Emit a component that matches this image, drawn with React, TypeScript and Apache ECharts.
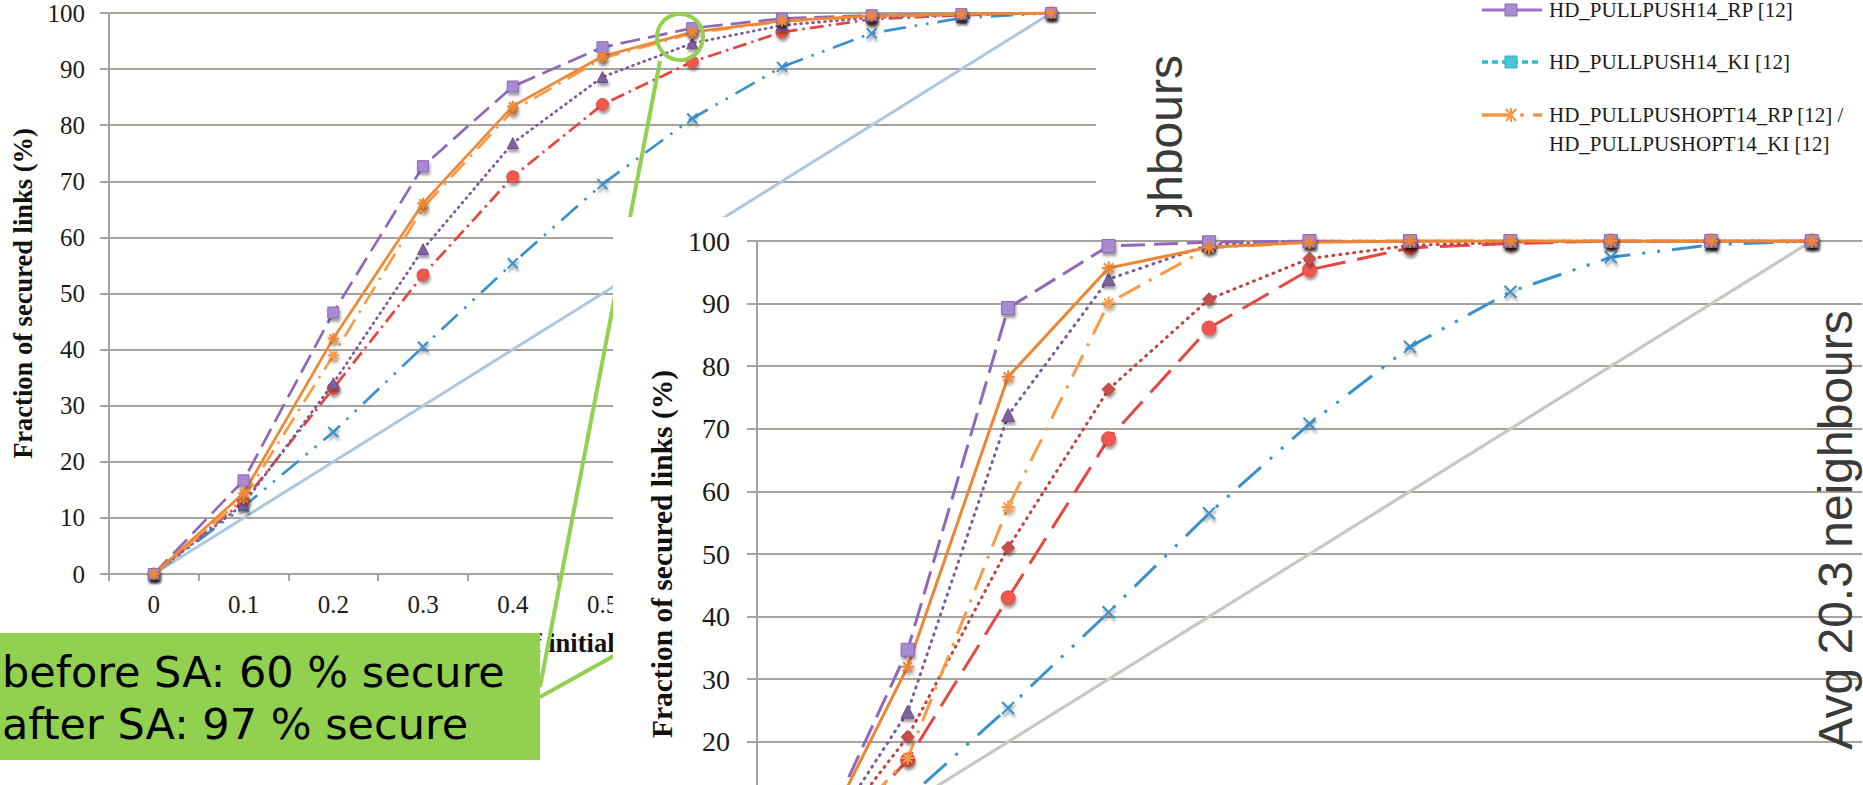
import React, { useEffect, useRef } from 'react';
import * as echarts from 'echarts';

// ---------- data ----------
const categories = ['0', '0.1', '0.2', '0.3', '0.4', '0.5', '0.6', '0.7', '0.8', '0.9', '1'];

// back chart (left)
const c1PullPushRP = [0, 16.7, 46.6, 72.7, 86.9, 93.9, 97.3, 99.0, 99.6, 99.8, 100];
const c1PullPushOptRP = [0, 14.4, 42.0, 66.1, 83.4, 92.3, 96.6, 98.6, 99.5, 99.8, 100];
const c1PullPushOptKI = [0, 13.5, 39.0, 65.3, 82.6, 91.9, 96.4, 98.5, 99.4, 99.8, 100];
const c1Triangle = [0, 12.5, 34.0, 57.9, 76.8, 88.6, 94.6, 97.8, 99.2, 99.7, 100];
const c1Circle = [0, 13.0, 33.1, 53.3, 70.8, 83.7, 91.3, 96.6, 98.9, 99.6, 100];
const c1Cross = [0, 12.0, 25.3, 40.5, 55.4, 69.5, 81.2, 90.4, 96.4, 99.1, 100];
const c1Diagonal = [0, 10, 20, 30, 40, 50, 60, 70, 80, 90, 100];

// front chart (Avg 20.3 neighbours)
const c2PullPushRP = [0, 34.7, 89.3, 99.2, 99.8, 100, 100, 100, 100, 100, 100];
const c2PullPushOptRP = [0, 32.0, 78.3, 95.7, 99.0, 99.8, 100, 100, 100, 100, 100];
const c2PullPushOptKI = [0, 17.4, 57.5, 90.1, 98.9, 99.8, 100, 100, 100, 100, 100];
const c2Triangle = [0, 24.8, 72.2, 93.9, 99.4, 100, 100, 100, 100, 100, 100];
const c2Diamond = [0, 20.8, 51.0, 76.3, 90.7, 97.2, 99.3, 99.8, 100, 100, 100];
const c2Circle = [0, 17.1, 43.0, 68.4, 86.1, 95.4, 98.9, 99.6, 100, 100, 100];
const c2Cross = [0, 11.0, 25.4, 40.7, 56.5, 70.8, 83.1, 91.9, 97.4, 99.4, 100];
const c2Diagonal = [0, 10, 20, 30, 40, 50, 60, 70, 80, 90, 100];

const legendLabels = [
  'HD_PULLPUSH14_RP [12]',
  'HD_PULLPUSH14_KI [12]',
  'HD_PULLPUSHOPT14_RP [12] /',
  'HD_PULLPUSHOPT14_KI [12]',
];
const calloutLines = ['before SA: 60 % secure', 'after SA: 97 % secure'];

// ---------- styles ----------
const SERIF = '"Liberation Serif", "Times New Roman", serif';
const SANS = '"Liberation Sans", Arial, sans-serif';
const DEJAVU = '"DejaVu Sans", Verdana, sans-serif';
const GRID = '#a6a29c';
const GREEN = '#92d050';
const ASTERISK = 'path://M5,0L5,10M0,5L10,5M1.5,1.5L8.5,8.5M8.5,1.5L1.5,8.5';
const CROSS = 'path://M0,0L10,10M10,0L0,10';

type Mk = { symbol: string; size: number; fill: string; border: string; bw: number };

function mkSeries(
  name: string,
  data: number[],
  color: string,
  width: number,
  dash: any,
  cap: string,
  mk?: Mk,
) {
  return {
    type: 'line',
    name,
    data,
    silent: true,
    lineStyle: { color, width, type: dash, cap, join: 'round' },
    symbol: mk ? mk.symbol : 'none',
    symbolSize: mk ? mk.size : 0,
    showSymbol: !!mk,
    showAllSymbol: true,
    itemStyle: mk
      ? {
          color: mk.fill,
          borderColor: mk.border,
          borderWidth: mk.bw,
          shadowBlur: 3,
          shadowOffsetX: 1,
          shadowOffsetY: 3,
          shadowColor: 'rgba(0,0,0,0.4)',
        }
      : { color },
  };
}

function axes(opts: {
  labelSize: number;
  yMargin: number;
  xMargin: number;
  tickLen: number;
  yName: string;
  yNameGap: number;
  nameSize: number;
  xName?: string;
  xNameGap?: number;
  maxLabelIndex?: number;
}) {
  const axisLine = { show: true, lineStyle: { color: GRID, width: 2 } };
  const maxIdx = opts.maxLabelIndex === undefined ? 99 : opts.maxLabelIndex;
  return {
    xAxis: {
      type: 'category',
      data: categories,
      boundaryGap: true,
      axisLine,
      axisTick: { show: true, length: 7, interval: 0, lineStyle: { color: GRID, width: 2 } },
      axisLabel: {
        fontFamily: SERIF,
        fontSize: opts.labelSize,
        color: '#1a1a1a',
        margin: opts.xMargin,
        interval: (index: number) => index <= maxIdx,
      },
      splitLine: { show: false },
      name: opts.xName || '',
      nameLocation: 'middle',
      nameGap: opts.xNameGap || 40,
      nameTextStyle: { fontFamily: SERIF, fontWeight: 'bold', fontSize: opts.nameSize, color: '#111' },
    },
    yAxis: {
      type: 'value',
      min: 0,
      max: 100,
      interval: 10,
      axisLine,
      axisTick: { show: true, length: opts.tickLen, lineStyle: { color: GRID, width: 2 } },
      splitLine: { show: true, lineStyle: { color: GRID, width: 2 } },
      axisLabel: { fontFamily: SERIF, fontSize: opts.labelSize, color: '#1a1a1a', margin: opts.yMargin },
      name: opts.yName,
      nameLocation: 'middle',
      nameGap: opts.yNameGap,
      nameTextStyle: { fontFamily: SERIF, fontWeight: 'bold', fontSize: opts.nameSize, color: '#111' },
    },
  };
}

function buildOption1() {
  const w = 2.7;
  const Z = 100;
  const legendX0 = 1482;
  const legendX1 = 1542;
  const legendMid = 1511;
  const textX = 1549;
  const rowsY = [10, 62, 115, 144];
  const legendText = legendLabels.map((t, i) => ({
    type: 'text',
    z: Z,
    x: textX,
    y: rowsY[i],
    style: { text: t, fontFamily: SERIF, fontSize: 21, fill: '#1a1a1a', align: 'left', verticalAlign: 'middle' },
  }));
  return {
    animation: false,
    backgroundColor: '#ffffff',
    grid: { left: 109, right: 767, top: 13, bottom: 211, containLabel: false },
    ...axes({
      labelSize: 25,
      yMargin: 24,
      xMargin: 18,
      tickLen: 9,
      yName: 'Fraction of secured links (%)',
      yNameGap: 73,
      nameSize: 26.5,
      xName: 'Fraction of initially secured links',
      xNameGap: 55,
      maxLabelIndex: 5,
    }),
    series: [
      mkSeries('diagonal', c1Diagonal, '#aec7dd', 3, 'solid', 'butt'),
      mkSeries('cross', c1Cross, '#3a92cc', w, [22, 9, 2.5, 9, 2.5, 9], 'butt', {
        symbol: CROSS, size: 10, fill: '#3a92cc', border: '#3a92cc', bw: 2,
      }),
      mkSeries('circle', c1Circle, '#e5463e', w, [14, 5, 2.5, 5], 'butt', {
        symbol: 'circle', size: 12, fill: '#f0584e', border: '#d84a42', bw: 1,
      }),
      mkSeries('triangle', c1Triangle, '#7d5a9c', w, [1, 5], 'round', {
        symbol: 'triangle', size: 11, fill: '#80609f', border: '#6d4e8c', bw: 1,
      }),
      mkSeries('HD_PULLPUSHOPT14_KI [12]', c1PullPushOptKI, '#fb9a44', w, [20, 8, 2.5, 8], 'butt', {
        symbol: ASTERISK, size: 11, fill: '#fb9a44', border: '#fb9a44', bw: 2,
      }),
      mkSeries('HD_PULLPUSH14_RP [12]', c1PullPushRP, '#8f68b8', w, [20, 8], 'butt', {
        symbol: 'rect', size: 11, fill: '#a88ad0', border: '#8a68b4', bw: 1,
      }),
      mkSeries('HD_PULLPUSHOPT14_RP [12]', c1PullPushOptRP, '#ee8836', w, 'solid', 'butt', {
        symbol: ASTERISK, size: 11, fill: '#ee8836', border: '#ee8836', bw: 2,
      }),
    ],
    graphic: [
      // rotated label of the back chart (mostly hidden by the front chart)
      {
        type: 'text',
        z: Z,
        x: 1165,
        y: 55,
        rotation: Math.PI / 2,
        style: { text: 'neighbours', fontFamily: SANS, fontSize: 48, fill: '#3a3a3a', align: 'right', verticalAlign: 'middle' },
      },
      // legend
      { type: 'line', z: Z, shape: { x1: legendX0, y1: rowsY[0], x2: legendX1, y2: rowsY[0] }, style: { stroke: '#9b72c8', lineWidth: 3 } },
      { type: 'rect', z: Z, shape: { x: legendMid - 6, y: rowsY[0] - 6, width: 12, height: 12 }, style: { fill: '#a98bd0', stroke: '#8a68b4', lineWidth: 1 } },
      { type: 'line', z: Z, shape: { x1: legendX0, y1: rowsY[1], x2: legendX1, y2: rowsY[1] }, style: { stroke: '#2bbad0', lineWidth: 3.5, lineDash: [6, 4] } },
      { type: 'rect', z: Z, shape: { x: legendMid - 6, y: rowsY[1] - 6, width: 12, height: 12 }, style: { fill: '#4ec5d6', stroke: '#2bb0c4', lineWidth: 1 } },
      { type: 'line', z: Z, shape: { x1: legendX0, y1: rowsY[2], x2: legendMid, y2: rowsY[2] }, style: { stroke: '#f79646', lineWidth: 3.5 } },
      { type: 'line', z: Z, shape: { x1: legendMid - 5, y1: rowsY[2] - 6, x2: legendMid + 5, y2: rowsY[2] + 6 }, style: { stroke: '#f79646', lineWidth: 2 } },
      { type: 'line', z: Z, shape: { x1: legendMid + 5, y1: rowsY[2] - 6, x2: legendMid - 5, y2: rowsY[2] + 6 }, style: { stroke: '#f79646', lineWidth: 2 } },
      { type: 'line', z: Z, shape: { x1: legendMid, y1: rowsY[2] - 7, x2: legendMid, y2: rowsY[2] + 7 }, style: { stroke: '#f79646', lineWidth: 2 } },
      { type: 'circle', z: Z, shape: { cx: legendMid + 11, cy: rowsY[2], r: 2 }, style: { fill: '#f79646' } },
      { type: 'line', z: Z, shape: { x1: legendMid + 22, y1: rowsY[2], x2: legendX1, y2: rowsY[2] }, style: { stroke: '#f79646', lineWidth: 3.5 } },
      ...legendText,
      // green call-out
      { type: 'line', z: Z, shape: { x1: 700, y1: 608, x2: 540, y2: 697 }, style: { stroke: GREEN, lineWidth: 4 } },
      { type: 'line', z: Z, shape: { x1: 660, y1: 61, x2: 540, y2: 687 }, style: { stroke: GREEN, lineWidth: 4 } },
      { type: 'circle', z: Z, shape: { cx: 680, cy: 37, r: 23 }, style: { fill: 'none', stroke: GREEN, lineWidth: 4 } },
      { type: 'rect', z: Z, shape: { x: -5, y: 633, width: 545, height: 127 }, style: { fill: GREEN } },
      {
        type: 'text', z: Z + 1, x: 2, y: 672,
        style: { text: calloutLines[0], fontFamily: DEJAVU, fontSize: 43, fill: '#000', align: 'left', verticalAlign: 'middle' },
      },
      {
        type: 'text', z: Z + 1, x: 2, y: 724,
        style: { text: calloutLines[1], fontFamily: DEJAVU, fontSize: 43, fill: '#000', align: 'left', verticalAlign: 'middle' },
      },
    ],
  };
}

function buildOption2() {
  const w = 3;
  return {
    animation: false,
    backgroundColor: '#ffffff',
    grid: { left: 144, right: 1, top: 24, bottom: 50, containLabel: false },
    ...axes({
      labelSize: 28,
      yMargin: 27,
      xMargin: 20,
      tickLen: 10,
      yName: 'Fraction of secured links (%)',
      yNameGap: 79,
      nameSize: 29.5,
    }),
    series: [
      mkSeries('diagonal', c2Diagonal, '#cac7c1', 3.2, 'solid', 'butt'),
      mkSeries('cross', c2Cross, '#3a92cc', w, [30, 12, 3, 12, 3, 12], 'butt', {
        symbol: CROSS, size: 12, fill: '#3a92cc', border: '#3a92cc', bw: 2,
      }),
      mkSeries('circle', c2Circle, '#e6473f', w, [30, 12], 'butt', {
        symbol: 'circle', size: 14, fill: '#f2574d', border: '#d84a42', bw: 1,
      }),
      mkSeries('diamond', c2Diamond, '#c4403c', w, [1, 6], 'round', {
        symbol: 'diamond', size: 13, fill: '#c9504c', border: '#b2403c', bw: 1,
      }),
      mkSeries('triangle', c2Triangle, '#7d5a9c', w, [1, 6], 'round', {
        symbol: 'triangle', size: 13, fill: '#80609f', border: '#6d4e8c', bw: 1,
      }),
      mkSeries('HD_PULLPUSHOPT14_KI [12]', c2PullPushOptKI, '#fb9a44', w, [24, 10, 3, 10], 'butt', {
        symbol: ASTERISK, size: 13, fill: '#fb9a44', border: '#fb9a44', bw: 2,
      }),
      mkSeries('HD_PULLPUSH14_RP [12]', c2PullPushRP, '#8f68b8', w, [24, 9], 'butt', {
        symbol: 'rect', size: 13, fill: '#a88ad0', border: '#8a68b4', bw: 1,
      }),
      mkSeries('HD_PULLPUSHOPT14_RP [12]', c2PullPushOptRP, '#ec8534', w, 'solid', 'butt', {
        symbol: ASTERISK, size: 13, fill: '#ec8534', border: '#ec8534', bw: 2,
      }),
    ],
    graphic: [
      {
        type: 'text',
        z: 100,
        x: 1222,
        y: 313,
        rotation: Math.PI / 2,
        style: { text: 'Avg 20.3 neighbours', fontFamily: SANS, fontSize: 48, fill: '#3a3a3a', align: 'center', verticalAlign: 'middle' },
      },
    ],
  };
}

export default function App() {
  const ref1 = useRef<HTMLDivElement>(null);
  const ref2 = useRef<HTMLDivElement>(null);
  useEffect(() => {
    const c1 = echarts.init(ref1.current as HTMLDivElement, undefined, { renderer: 'svg' });
    c1.setOption(buildOption1() as any);
    const c2 = echarts.init(ref2.current as HTMLDivElement, undefined, { renderer: 'svg' });
    c2.setOption(buildOption2() as any);
    return () => {
      c1.dispose();
      c2.dispose();
    };
  }, []);
  return (
    <div
      style={{
        position: 'fixed',
        left: 0,
        top: 0,
        width: 1863,
        height: 785,
        overflow: 'hidden',
        background: '#ffffff',
      }}
    >
      <div ref={ref1} style={{ position: 'absolute', left: 0, top: 0, width: 1863, height: 785 }} />
      <div
        ref={ref2}
        style={{ position: 'absolute', left: 613, top: 217, width: 1250, height: 700, background: '#ffffff' }}
      />
    </div>
  );
}
